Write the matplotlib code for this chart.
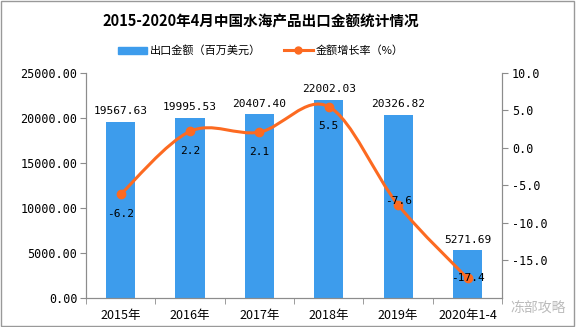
import numpy as np
import matplotlib.pyplot as plt
from matplotlib.path import Path
from matplotlib.patches import PathPatch, Rectangle
from matplotlib.lines import Line2D

plt.rcParams['font.family'] = ['Noto Sans CJK SC', 'DejaVu Sans']

# %% data
categories = ["2015年", "2016年", "2017年", "2018年", "2019年", "2020年1-4"]
export_value = [19567.63, 19995.53, 20407.40, 22002.03, 20326.82, 5271.69]
growth_rate = [-6.2, 2.2, 2.1, 5.5, -7.6, -17.4]
growth_offsets = [-14, -14, -14, -14, 3, 0]  # label offset in points

bar_color = "#3d9cec"
line_color = "#fc6a21"
spine_color = "#8c8c8c"
num_font = ["DejaVu Sans Mono"]

fig = plt.figure(figsize=(5.76, 3.27), dpi=100)
ax = fig.add_axes([0.149, 0.089, 0.723, 0.688])
ax2 = ax.twinx()

x = np.arange(len(categories))
ax.bar(x, export_value, width=0.42, color=bar_color, zorder=2)
ax.set_xlim(-0.5, len(categories) - 0.5)
ax.set_ylim(0, 25000)
ax.set_yticks(np.arange(0, 25001, 5000))
ax.set_yticklabels([f"{v:.2f}" for v in np.arange(0, 25001, 5000)], family=num_font, fontsize=8.5)
ax.set_xticks(x)
ax.set_xticklabels(categories, fontsize=9)
ax.set_xticks(np.arange(-0.5, len(categories), 1.0), minor=True)
ax.tick_params(axis="x", which="major", length=0, pad=8)
ax.tick_params(axis="x", which="minor", length=4, color=spine_color)
ax.tick_params(axis="y", length=4, color=spine_color, pad=2)

for xi, v in zip(x, export_value):
    ax.annotate(f"{v:.2f}", (xi, v), xytext=(0, 4), textcoords="offset points",
                ha="center", va="bottom", fontsize=8, family=num_font)

# smooth line through the growth points (cubic bezier, catmull-rom style)
pts = np.column_stack([x, growth_rate]).astype(float)
verts = [pts[0]]
codes = [Path.MOVETO]
for i in range(len(pts) - 1):
    p0 = pts[i - 1] if i > 0 else pts[i]
    p1, p2 = pts[i], pts[i + 1]
    p3 = pts[i + 2] if i + 2 < len(pts) else pts[i + 1]
    c1 = p1 + (p2 - p0) / 6
    c2 = p2 - (p3 - p1) / 6
    verts += [c1, c2, p2]
    codes += [Path.CURVE4] * 3
ax2.add_patch(PathPatch(Path(verts, codes), facecolor="none", edgecolor=line_color, lw=2.2, zorder=3))
ax2.plot(x, growth_rate, "o", color=line_color, ms=6, zorder=4)
ax2.set_ylim(-20, 10)
ax2.set_yticks(np.arange(-15, 10.1, 5))
ax2.set_yticklabels([f"{v:.1f}" for v in np.arange(-15, 10.1, 5)], family=num_font, fontsize=8.5)
ax2.tick_params(axis="y", length=4, color=spine_color, pad=3)

for xi, v, off in zip(x, growth_rate, growth_offsets):
    ax2.annotate(f"{v}", (xi, v), xytext=(0, off), textcoords="offset points",
                 ha="center", va="center", fontsize=8, family=num_font, zorder=5)

for a in (ax, ax2):
    a.spines["top"].set_visible(False)
    for s in ("left", "right", "bottom"):
        a.spines[s].set_color(spine_color)

fig.text(0.453, 0.935, "2015-2020年4月中国水海产品出口金额统计情况", ha="center", va="center",
         fontsize=10.5, fontweight="bold")

handles = [
    Rectangle((0, 0), 1, 1, color=bar_color),
    Line2D([], [], color=line_color, lw=2.2, marker="o", ms=5),
]
fig.legend(handles, ["出口金额（百万美元）", "金额增长率（%）"], loc="center",
           bbox_to_anchor=(0.453, 0.845), ncol=2, frameon=False, fontsize=8,
           handlelength=2.6, handleheight=0.6, columnspacing=2.0, handletextpad=0.3)

fig.text(0.935, 0.055, "冻部攻略", ha="center", va="center", fontsize=10, color="#bbbbbb")
fig.add_artist(Rectangle((0.002, 0.003), 0.995, 0.994, transform=fig.transFigure,
                         fill=False, edgecolor="#999999", lw=1))

fig.savefig("out.png", dpi=100)
